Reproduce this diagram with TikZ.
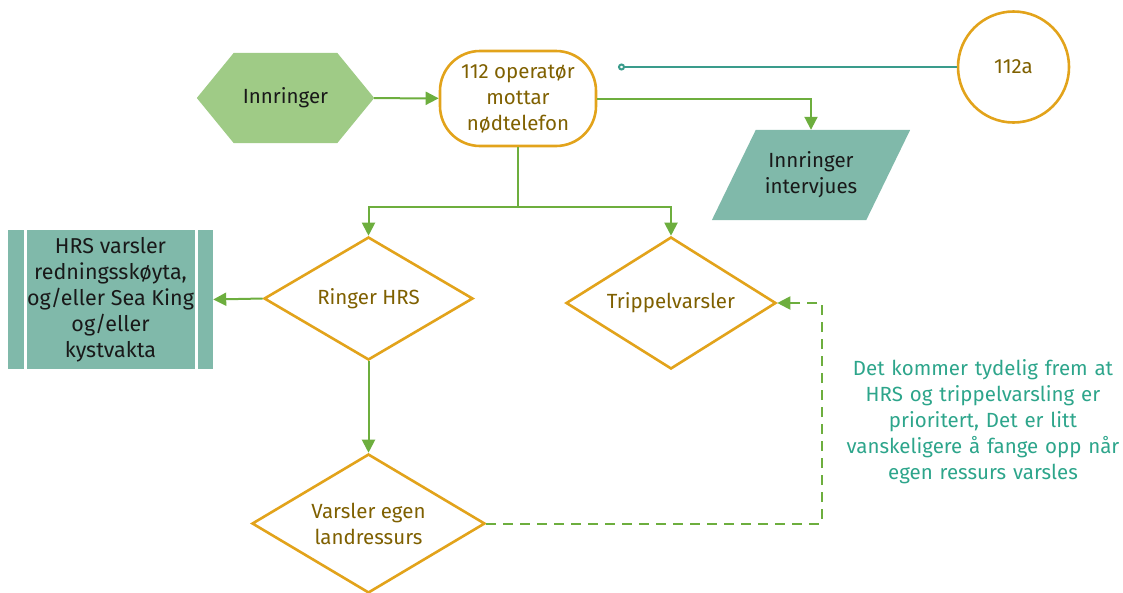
\documentclass[tikz,border=0pt]{standalone}
\usepackage{fontspec}
\setmainfont{Fira Sans}
\usetikzlibrary{shapes.geometric,arrows.meta,calc}
\definecolor{flowgreen}{HTML}{6DAE3E}
\definecolor{hexgreen}{HTML}{9FCB86}
\definecolor{gold}{HTML}{E2A31B}
\definecolor{brown}{HTML}{7F6000}
\definecolor{tealfill}{HTML}{80B9AA}
\definecolor{tealline}{HTML}{3A9C8C}
\definecolor{tealtext}{HTML}{2DA58B}
\begin{document}
\begin{tikzpicture}[x=1pt,y=-1pt,
  every node/.style={font=\fontsize{20.5}{26}\selectfont, align=center, inner sep=0pt},
  flow/.style={draw=flowgreen, line width=2pt, -{Triangle[length=13pt,width=13pt]}},
  gatebox/.style={diamond, draw=gold, line width=2.6pt, text=brown, fill=white},
  tealbox/.style={fill=tealfill, text=black!90},
]
\useasboundingbox (0,0) rectangle (1123,592);

% start: caller (hexagon)
\node[minimum width=177pt, minimum height=90pt] (inn) at (285.5,98) {};
\fill[hexgreen] (inn.west) -- ($(inn.north west)+(37,0)$) -- ($(inn.north east)+(-37,0)$)
  -- (inn.east) -- ($(inn.south east)+(-37,0)$) -- ($(inn.south west)+(37,0)$) -- cycle;
\node[text=black!90] at (inn) {Innringer};

% operator receives the call
\node[draw=gold, line width=2.6pt, rounded corners=40pt, minimum width=156pt,
  minimum height=95pt, text=brown] (op) at (518,98.5) {112 operatør\\mottar\\nødtelefon};

% reference circle
\node[circle, draw=gold, line width=2.6pt, minimum size=111pt, text=brown] (c112) at (1013.5,67) {112a};
\coordinate (dot) at (618,67);

% caller interviewed (parallelogram)
\node[minimum width=198pt, minimum height=90pt] (intv) at (811,175) {};
\fill[tealfill] ($(intv.south west)$) -- ($(intv.north west)+(44,0)$) -- (intv.north east)
  -- ($(intv.south east)+(-44,0)$) -- cycle;
\node[text=black!90] at (intv) {Innringer\\intervjues};

% decisions
\node[gatebox, shape aspect=1.7, minimum width=209pt, minimum height=123pt] (hrs) at (368.5,298.5) {Ringer HRS};
\node[gatebox, shape aspect=1.6, minimum width=210pt, minimum height=132pt] (tv) at (671,303) {Trippelvarsler};
\node[gatebox, shape aspect=1.68, minimum width=233pt, minimum height=139pt] (egen) at (368.5,523.5) {Varsler egen\\landressurs};

% predefined process
\node[tealbox, minimum width=205pt, minimum height=139pt, font=\fontsize{21.5}{26}\selectfont] (box) at (110.5,299.5)
  {HRS varsler\\redningsskøyta,\\og/eller Sea King\\og/eller\\kystvakta};
\draw[white, line width=2.2pt] ($(box.north)+(-85,0)$) -- ($(box.south)+(-85,0)$);
\draw[white, line width=2.2pt] ($(box.north)+(86,0)$) -- ($(box.south)+(86,0)$);

% note
\node[text=tealtext, text width=290pt] (note) at (983,422)
  {Det kommer tydelig frem at\\HRS og trippelvarsling er\\prioritert, Det er litt\\vanskeligere å fange opp når\\egen ressurs varsles};

% connectors
\draw[flow] (inn) -- (op);
\draw[flow] (op.east) -| (intv.north);
\draw[draw=tealline, line width=2pt, {Circle[open,length=7pt,width=7pt]}-] (dot) -- (c112.west);
\draw[draw=flowgreen, line width=2pt] (op.south) -- ++(0,60) coordinate (split);
\draw[flow] (split) -| (hrs.north);
\draw[flow] (split) -| (tv.north);
\draw[flow] (hrs.west) -- (box.east);
\draw[flow] (hrs.south) -- (egen.north);
\coordinate (ret) at (822,420);
\draw[flow, dash pattern=on 10pt off 7pt] (egen.east) -| (ret) |- (tv.east);
\end{tikzpicture}
\end{document}
